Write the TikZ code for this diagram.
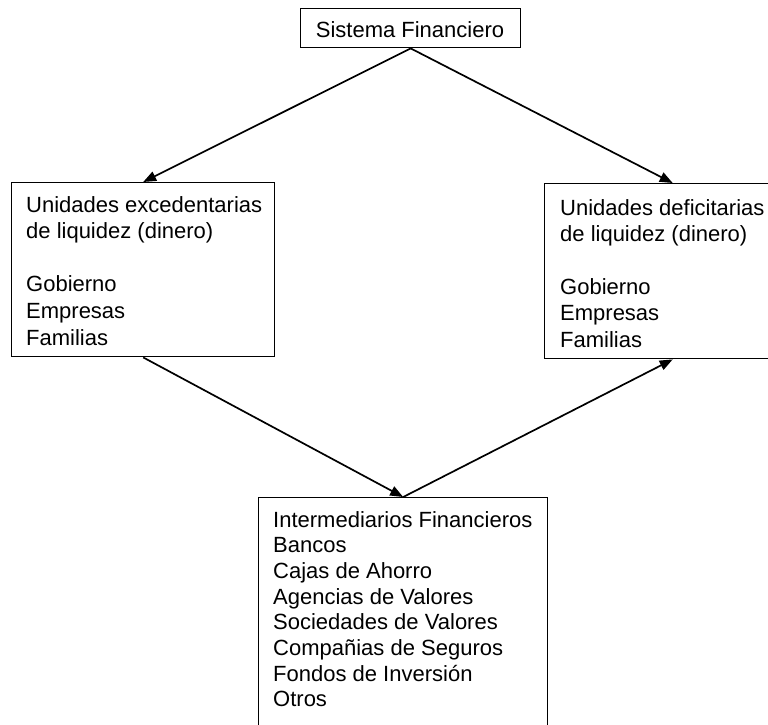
\documentclass[tikz,border=0pt]{standalone}
\usepackage{fontspec}
\setmainfont{Liberation Sans}
\usetikzlibrary{arrows.meta}
\tikzset{
  boxst/.style={draw, line width=1.4pt, rectangle, inner sep=0pt, anchor=north west},
  txt/.style={inner sep=0pt, anchor=base west},
  conn/.style={line width=1.7pt, -{Triangle[length=13pt,width=10pt]}}
}
\begin{document}
\begin{tikzpicture}[x=1pt,y=-1pt]
\useasboundingbox (0,0) rectangle (768,724);
\clip (0,0) rectangle (768,724);
\fill[white] (0,0) rectangle (768,724);
% boxes
\node[boxst, minimum width=220pt, minimum height=39pt] (T) at (300,8) {};
\node[boxst, minimum width=263pt, minimum height=174pt] (L) at (11,182) {};
\node[boxst, minimum width=256pt, minimum height=175pt] (R) at (544,183) {};
\node[boxst, minimum width=289pt, minimum height=250pt] (B) at (258,497) {};
% texts
\node[inner sep=0pt, anchor=base, font=\fontsize{22}{26}\selectfont] (Tt) at (410,37) {Sistema Financiero};
\node[txt] (Lt) at (26,212) {\fontsize{22}{26.6}\selectfont\parbox[t]{260pt}{\raggedright
Unidades excedentarias\\
de liquidez (dinero)\\[26.6pt]
Gobierno\\
Empresas\\
Familias}};
\node[txt] (Rt) at (560,215) {\fontsize{22}{26.4}\selectfont\parbox[t]{220pt}{\raggedright
Unidades deficitarias\\
de liquidez (dinero)\\[26.4pt]
Gobierno\\
Empresas\\
Familias}};
\node[txt] (Bt) at (273,527) {\fontsize{22}{25.7}\selectfont\parbox[t]{280pt}{\raggedright
Intermediarios Financieros\\
Bancos\\
Cajas de Ahorro\\
Agencias de Valores\\
Sociedades de Valores\\
Compañias de Seguros\\
Fondos de Inversión\\
Otros}};
% connectors
\draw[conn] (T.south) -- (L.north);
\draw[conn] (T.south) -- (R.north);
\draw[conn] (L.south) -- (B.north);
\draw[conn] (B.north) -- (R.south);
\end{tikzpicture}
\end{document}
